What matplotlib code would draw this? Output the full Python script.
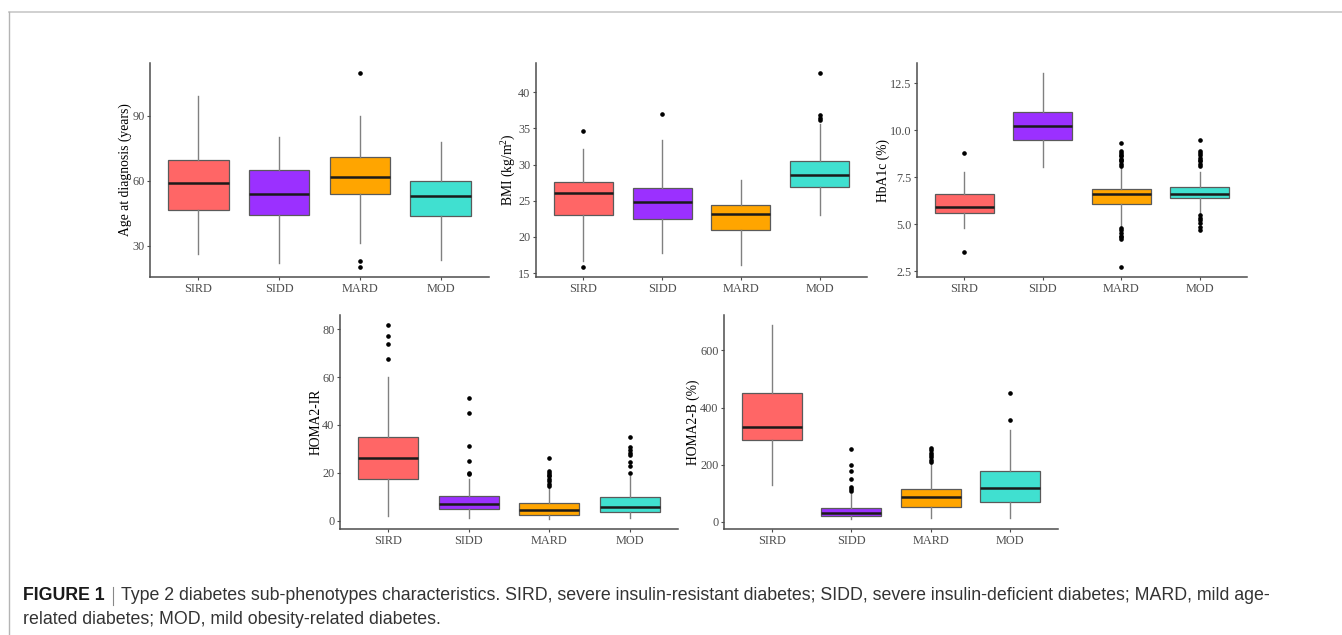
import matplotlib
matplotlib.use('Agg')
import matplotlib.pyplot as plt
from matplotlib import font_manager
from matplotlib.lines import Line2D

# ---------------- data ----------------
categories = ['SIRD', 'SIDD', 'MARD', 'MOD']
colors = ['#FF6666', '#9B30FF', '#FFA500', '#40E0D0']

# Age at diagnosis (years)
age_lo = [26.3, 22.3, 31.2, 23.4]
age_q1 = [46.5, 44.3, 54.1, 44.0]
age_med = [58.9, 54.1, 61.8, 53.1]
age_q3 = [69.8, 64.8, 70.9, 59.8]
age_hi = [98.9, 80.2, 89.9, 77.9]
age_out = [[], [], [109.8, 23.2, 20.2], []]

# BMI (kg/m2)
bmi_lo = [16.7, 17.8, 16.1, 23.0]
bmi_q1 = [23.0, 22.5, 21.0, 26.9]
bmi_med = [26.1, 24.8, 23.2, 28.6]
bmi_q3 = [27.6, 26.8, 24.4, 30.5]
bmi_hi = [32.2, 33.4, 27.8, 35.6]
bmi_out = [[34.6, 15.8], [37.0], [], [42.7, 36.8, 36.5, 36.1]]

# HbA1c (%)
hba_lo = [4.82, 8.03, 4.90, 5.55]
hba_q1 = [5.58, 9.50, 6.07, 6.40]
hba_med = [5.90, 10.22, 6.60, 6.62]
hba_q3 = [6.60, 10.97, 6.88, 7.01]
hba_hi = [7.78, 13.07, 8.08, 7.78]
hba_out = [[8.79, 3.52], [],
           [9.31, 8.92, 8.80, 8.70, 8.61, 8.49, 8.40, 8.35, 8.22, 8.11,
            4.82, 4.69, 4.55, 4.39, 4.30, 4.20, 2.71],
           [9.49, 8.92, 8.78, 8.70, 8.52, 8.40, 8.35, 8.22, 8.08,
            5.50, 5.35, 5.23, 5.05, 4.87, 4.70]]

# HOMA2-IR
ir_lo = [2.1, 1.4, 0.7, 1.4]
ir_q1 = [17.5, 4.8, 2.5, 3.8]
ir_med = [26.2, 7.1, 4.6, 6.0]
ir_q3 = [34.8, 10.3, 7.3, 9.8]
ir_hi = [60.1, 17.5, 14.0, 18.9]
ir_out = [[81.8, 76.9, 73.6, 67.6],
          [51.2, 45.2, 31.2, 25.0, 20.0, 19.6],
          [26.4, 20.7, 20.0, 19.3, 18.6, 17.5, 16.5, 15.4, 14.4],
          [35.0, 30.8, 29.5, 28.5, 27.7, 24.5, 23.1, 20.0]]

# HOMA2-B (%)
b_lo = [129, 9.4, 15.3, 15.3]
b_q1 = [286.5, 20, 54, 70.4]
b_med = [333, 33, 85.7, 119.8]
b_q3 = [451, 50.5, 116, 178.5]
b_hi = [690, 97.5, 205, 320.5]
b_out = [[], [256, 200.8, 178.5, 150.3, 123, 116, 109],
         [258, 250, 242, 235, 227, 218, 209], [449.7, 355.8]]

age_ticks = [30, 60, 90]
bmi_ticks = [15, 20, 25, 30, 35, 40]
hba_ticks = [2.5, 5.0, 7.5, 10.0, 12.5]
ir_ticks = [0, 20, 40, 60, 80]
b_ticks = [0, 200, 400, 600]

caption_bold = 'FIGURE 1'
caption_line1 = ('Type 2 diabetes sub-phenotypes characteristics. SIRD, severe insulin-resistant '
                 'diabetes; SIDD, severe insulin-deficient diabetes; MARD, mild age-')
caption_line2 = 'related diabetes; MOD, mild obesity-related diabetes.'

# ---------------- style ----------------
plt.rcParams['font.family'] = ['Liberation Serif', 'DejaVu Serif']
plt.rcParams['mathtext.fontset'] = 'custom'
plt.rcParams['mathtext.rm'] = 'Liberation Serif'
plt.rcParams['mathtext.it'] = 'Liberation Serif:italic'

installed = {f.name for f in font_manager.fontManager.ttflist}
cap_family = 'Liberation Sans Narrow' if 'Liberation Sans Narrow' in installed else 'Liberation Sans'
cap_size = 15.0 if cap_family == 'Liberation Sans Narrow' else 12.8

W, H = 1342, 635
fig = plt.figure(figsize=(W / 100, H / 100), dpi=100)


def px_axes(l, t, r, b):
    return fig.add_axes([l / W, 1 - b / H, (r - l) / W, (b - t) / H])


def draw_panel(rect, lo, q1, med, q3, hi, out, label, ticks, fmt):
    ax = px_axes(*rect)
    stats = []
    for i in range(len(categories)):
        stats.append(dict(med=med[i], q1=q1[i], q3=q3[i], whislo=lo[i],
                          whishi=hi[i], fliers=out[i], label=categories[i]))
    bp = ax.bxp(stats, positions=range(1, len(categories) + 1), widths=0.75,
                patch_artist=True, showcaps=False,
                boxprops=dict(edgecolor='#5A5A5A', linewidth=0.9),
                medianprops=dict(color='#1A1A1A', linewidth=1.8),
                whiskerprops=dict(color='#808080', linewidth=1.0),
                flierprops=dict(marker='o', markerfacecolor='black',
                                markeredgecolor='black', markersize=2.3,
                                linestyle='none'))
    for patch, c in zip(bp['boxes'], colors):
        patch.set_facecolor(c)
    allv = lo + hi + [v for o in out for v in o]
    vmin, vmax = min(allv), max(allv)
    pad = 0.05 * (vmax - vmin)
    ax.set_ylim(vmin - pad, vmax + pad)
    ax.set_xlim(0.4, len(categories) + 0.6)
    ax.set_yticks(ticks)
    ax.set_yticklabels([fmt.format(t) for t in ticks])
    ax.set_xticks(range(1, len(categories) + 1))
    ax.set_xticklabels(categories)
    for s in ['top', 'right']:
        ax.spines[s].set_visible(False)
    for s in ['left', 'bottom']:
        ax.spines[s].set_color('#4D4D4D')
        ax.spines[s].set_linewidth(1.1)
    ax.tick_params(axis='both', colors='#4D4D4D', labelcolor='#4D4D4D',
                   labelsize=8.8, length=2.5, width=0.8, pad=1.5)
    ax.set_ylabel(label, fontsize=9.8, color='black', labelpad=0)
    ax.set_facecolor('white')
    return ax


draw_panel((150, 63, 489, 277), age_lo, age_q1, age_med, age_q3, age_hi, age_out,
           'Age at diagnosis (years)', age_ticks, '{:g}')
draw_panel((536, 63, 867, 277), bmi_lo, bmi_q1, bmi_med, bmi_q3, bmi_hi, bmi_out,
           'BMI (kg/m$^2$)', bmi_ticks, '{:g}')
draw_panel((917, 63, 1247, 277), hba_lo, hba_q1, hba_med, hba_q3, hba_hi, hba_out,
           'HbA1c (%)', hba_ticks, '{:.1f}')
draw_panel((340, 315, 678, 529), ir_lo, ir_q1, ir_med, ir_q3, ir_hi, ir_out,
           'HOMA2-IR', ir_ticks, '{:g}')
draw_panel((724, 315, 1058, 529), b_lo, b_q1, b_med, b_q3, b_hi, b_out,
           'HOMA2-B (%)', b_ticks, '{:g}')

# frame lines of the figure panel
fig.add_artist(Line2D([9 / W, 1.0], [1 - 12 / H, 1 - 12 / H], color='#C8C8C8',
                      linewidth=1.2, transform=fig.transFigure))
fig.add_artist(Line2D([9 / W, 9 / W], [1 - 12 / H, 0.0], color='#B4B4B4',
                      linewidth=1.0, transform=fig.transFigure))

# caption
y1 = 1 - 596 / H
t1 = fig.text(23 / W, y1, caption_bold, family=cap_family, weight='bold',
              fontsize=cap_size, va='center', ha='left', color='#1A1A1A')
fig.canvas.draw()
bb = t1.get_window_extent()
x_bar = bb.x1 + 8
fig.add_artist(Line2D([x_bar / W, x_bar / W], [1 - 587 / H, 1 - 605 / H],
                      color='#888888', linewidth=0.8, transform=fig.transFigure))
fig.text((x_bar + 8) / W, y1, caption_line1, family=cap_family,
         fontsize=cap_size, va='center', ha='left', color='#333333')
fig.text(23 / W, 1 - 620 / H, caption_line2, family=cap_family,
         fontsize=cap_size, va='center', ha='left', color='#333333')

fig.savefig('out.png', dpi=100, facecolor='white')
